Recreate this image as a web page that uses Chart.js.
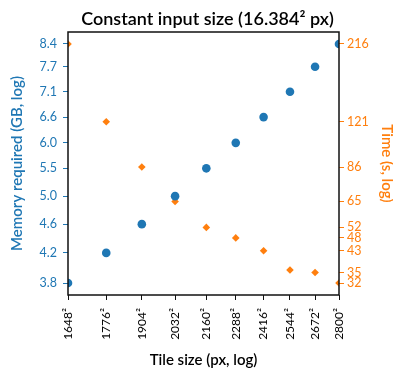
<!DOCTYPE html>
<html><head><meta charset="utf-8">
<script src="https://cdn.jsdelivr.net/npm/chart.js@4/dist/chart.umd.min.js"></script>
<style>html,body{margin:0;padding:0;background:#fff}</style>
</head><body>
<canvas id="c" width="393" height="370" style="display:block;width:393px;height:370px"></canvas>
<script>
// ---- data ----
const tileSizes = [1648, 1776, 1904, 2032, 2160, 2288, 2416, 2544, 2672, 2800];
const memoryGB  = [3.80, 4.20, 4.62, 5.07, 5.56, 6.05, 6.59, 7.17, 7.79, 8.40];
const timeS     = [216, 116, 80.8, 61.4, 49.9, 45.9, 41.4, 35.5, 34.8, 32];
const memoryTickLabels = ['3.8','4.2','4.6','5.0','5.5','6.0','6.6','7.1','7.7','8.4'];
const timeTickLabels   = ['216','121','86','65','52','48','43', null, '35','32'];
const tileTickLabels   = tileSizes.map(t => t + '\u00B2');
const chartTitle = 'Constant input size (16.384\u00B2 px)';

const BLUE = '#1f77b4', ORANGE = '#ff7f0e', INK = '#111';
const FONT = 'Lato';
Chart.defaults.font.family = FONT;

function logRange(arr) {
  const lo = Math.log10(Math.min(...arr)), hi = Math.log10(Math.max(...arr));
  const m = (hi - lo) * 0.05;
  return { min: Math.pow(10, lo - m), max: Math.pow(10, hi + m) };
}
const memR = logRange(memoryGB), timeR = logRange(timeS);

const memTicks = memoryGB.map((v, i) => ({ value: v, label: memoryTickLabels[i] }));
const timeTicks = timeS.map((v, i) => ({ value: v, label: timeTickLabels[i] })).filter(t => t.label !== null);

const framePlugin = {
  id: 'frame',
  afterDatasetsDraw(chart) {
    const a = chart.chartArea, ctx = chart.ctx;
    ctx.save();
    ctx.strokeStyle = INK; ctx.lineWidth = 1.5;
    ctx.strokeRect(a.left, a.top, a.right - a.left, a.bottom - a.top);
    ctx.restore();
  },
  afterDraw(chart) {
    const a = chart.chartArea, ctx = chart.ctx;
    ctx.save();
    ctx.fillStyle = '#000';
    ctx.font = '600 18px ' + FONT;
    ctx.textAlign = 'center'; ctx.textBaseline = 'middle';
    ctx.fillText(chartTitle, (a.left + a.right) / 2 + 4, a.top / 2 + 3);
    ctx.restore();
  }
};

new Chart(document.getElementById('c'), {
  type: 'scatter',
  data: {
    datasets: [
      { label: 'Memory', yAxisID: 'y', clip: 0,
        data: tileSizes.map((t, i) => ({ x: t, y: memoryGB[i] })),
        pointStyle: 'circle', pointRadius: 4.3, pointHoverRadius: 4.3,
        backgroundColor: BLUE, borderColor: BLUE, borderWidth: 0 },
      { label: 'Time', yAxisID: 'y1', clip: 0,
        data: tileSizes.map((t, i) => ({ x: t, y: timeS[i] })),
        pointStyle: 'rectRot', pointRadius: 3.8, pointHoverRadius: 3.8,
        backgroundColor: ORANGE, borderColor: ORANGE, borderWidth: 0 }
    ]
  },
  options: {
    responsive: false, animation: false, devicePixelRatio: 1,
    layout: { padding: { top: 32 } },
    plugins: {
      legend: { display: false }, tooltip: { enabled: false }, title: { display: false }
    },
    scales: {
      x: {
        type: 'logarithmic', position: 'bottom', min: tileSizes[0], max: tileSizes[tileSizes.length - 1],
        afterFit(s) { s.height = 75; },
        afterBuildTicks(s) { s.ticks = tileSizes.map(v => ({ value: v })); },
        ticks: { autoSkip: false, minRotation: 90, maxRotation: 90, color: '#000', padding: 8,
          font: { size: 12 }, callback: (v, i) => tileTickLabels[i] },
        grid: { display: true, drawOnChartArea: false, tickLength: 5, tickColor: INK, tickWidth: 1 },
        border: { display: false },
        title: { display: true, text: 'Tile size (px, log)', color: '#000',
          font: { size: 15, weight: '600', lineHeight: 1.2 }, padding: { top: 0, bottom: 1 } }
      },
      y: {
        type: 'logarithmic', position: 'left', min: memR.min, max: memR.max,
        afterFit(s) { s.width = 68; },
        afterBuildTicks(s) { s.ticks = memTicks.map(t => ({ value: t.value })); },
        ticks: { autoSkip: false, color: BLUE, padding: 6, font: { size: 12.5 },
          callback: (v, i) => memTicks[i].label },
        grid: { display: true, drawOnChartArea: false, tickLength: 5, tickColor: BLUE, tickWidth: 1 },
        border: { display: false },
        title: { display: true, text: 'Memory required (GB, log)', color: BLUE,
          font: { size: 15, weight: '600', lineHeight: 1.2 }, padding: { top: 8, bottom: 0 } }
      },
      y1: {
        type: 'logarithmic', position: 'right', min: timeR.min, max: timeR.max,
        afterFit(s) { s.width = 54; },
        afterBuildTicks(s) { s.ticks = timeTicks.map(t => ({ value: t.value })); },
        ticks: { autoSkip: false, color: ORANGE, padding: 3, font: { size: 12.5 },
          callback: (v, i) => timeTicks[i].label },
        grid: { display: true, drawOnChartArea: false, tickLength: 5, tickColor: ORANGE, tickWidth: 1 },
        border: { display: false },
        title: { display: true, text: 'Time (s, log)', color: ORANGE,
          font: { size: 15, weight: '600', lineHeight: 0.8 }, padding: { top: 0, bottom: 0 } }
      }
    }
  },
  plugins: [framePlugin]
});
</script>
</body></html>
